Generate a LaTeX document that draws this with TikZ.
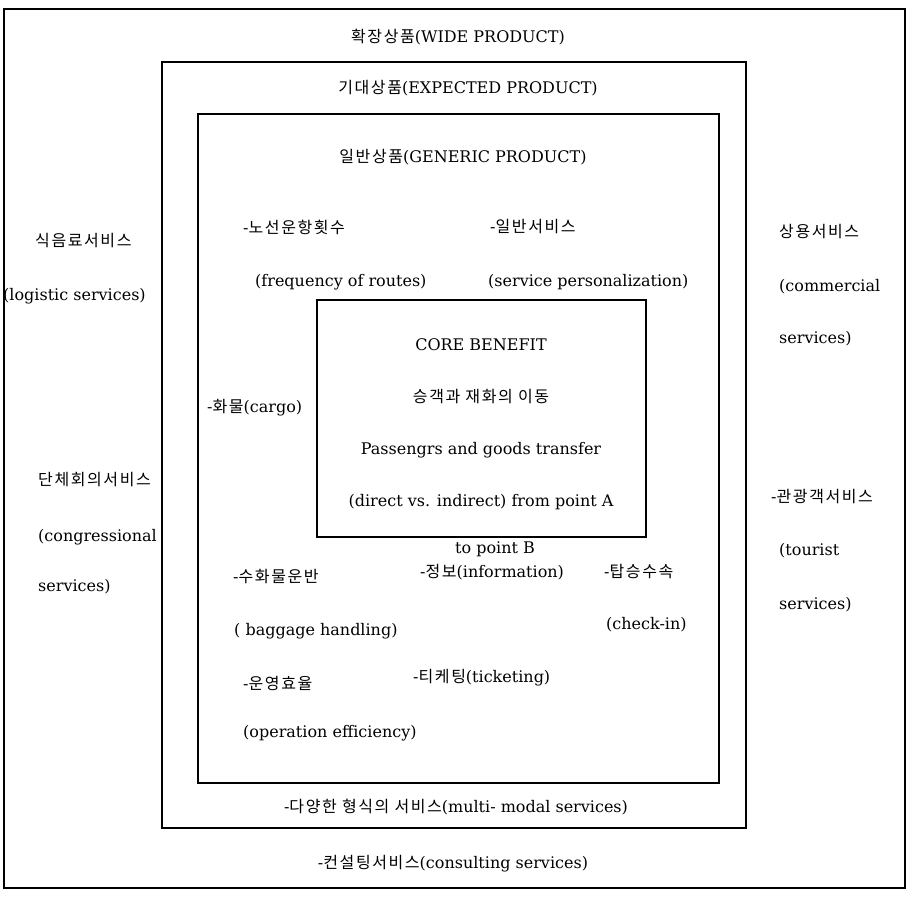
\documentclass[tikz,border=0pt]{standalone}
\usepackage{fontspec}
\setmainfont{DejaVu Serif}
\newfontfamily\krfont[LetterSpace=10]{Noto Sans CJK KR}
\newcommand\hk[1]{{\krfont #1}}
\begin{document}
\begin{tikzpicture}[x=1pt,y=-1pt,
  txt/.style={font=\fontsize{16}{19}\selectfont, inner sep=0pt},
  lt/.style={txt, anchor=west},
  boxline/.style={draw=black, line width=2pt}]
\useasboundingbox (0,0) rectangle (909,896);
% boxes
\draw[boxline] (4,9) rectangle (905,888);
\draw[boxline] (162,62) rectangle (746,828);
\draw[boxline] (198,114) rectangle (719,783);
\draw[boxline] (317,300) rectangle (646,537);
% titles
\node[txt] (wide) at (458,37) {\hk{확장상품}(WIDE PRODUCT)};
\node[txt] (exp) at (468,88) {\hk{기대상품}(EXPECTED PRODUCT)};
\node[txt] (gen) at (463,157) {\hk{일반상품}(GENERIC PRODUCT)};
% generic items
\node[lt] (route) at (243,227) {-\hk{노선운항횟수}};
\node[lt] (routeE) at (255,282) {(frequency of routes)};
\node[lt] (pers) at (490,227) {-\hk{일반서비스}};
\node[lt] (persE) at (488,282) {(service\ personalization)};
\node[lt] (cargo) at (207,408) {-\hk{화물}(cargo)};
% core
\node[txt] (core) at (481,345) {CORE BENEFIT};
\node[txt] (coreK) at (481,397) {\hk{승객과 재화의 이동}};
\node[txt] (coreE) at (481,450) {Passengrs and goods transfer};
\node[txt] (coreD) at (481,502) {(direct vs. indirect) from point A};
\node[txt] (pointB) at (495,549) {to point B};
% lower generic items
\node[lt] (bag) at (233,577) {-\hk{수화물운반}};
\node[lt] (info) at (420,572) {-\hk{정보}(information)};
\node[lt] (check) at (604,572) {-\hk{탑승수속}};
\node[lt] (bagE) at (234,631) {( baggage handling)};
\node[lt] (checkE) at (606,625) {(check-in)};
\node[lt] (oper) at (243,683) {-\hk{운영효율}};
\node[lt] (ticket) at (413,678) {-\hk{티케팅}(ticketing)};
\node[lt] (operE) at (243,733) {(operation efficiency)};
% expected / wide bottom
\node[txt] (multi) at (456,807) {-\hk{다양한 형식의 서비스}(multi- modal services)};
\node[txt] (consult) at (453,864) {-\hk{컨설팅서비스}(consulting services)};
% left side
\node[lt] (logK) at (35,241) {\hk{식음료서비스}};
\node[lt] (logE) at (3,296) {(logistic services)};
\node[lt] (conK) at (38,480) {\hk{단체회의서비스}};
\node[lt] (conE1) at (38,537) {(congressional};
\node[lt] (conE2) at (38,587) {services)};
% right side
\node[lt] (comK) at (779,232) {\hk{상용서비스}};
\node[lt] (comE1) at (779,287) {(commercial};
\node[lt] (comE2) at (779,339) {services)};
\node[lt] (touK) at (771,497) {-\hk{관광객서비스}};
\node[lt] (touE1) at (779,551) {(tourist};
\node[lt] (touE2) at (779,605) {services)};
\end{tikzpicture}
\end{document}
